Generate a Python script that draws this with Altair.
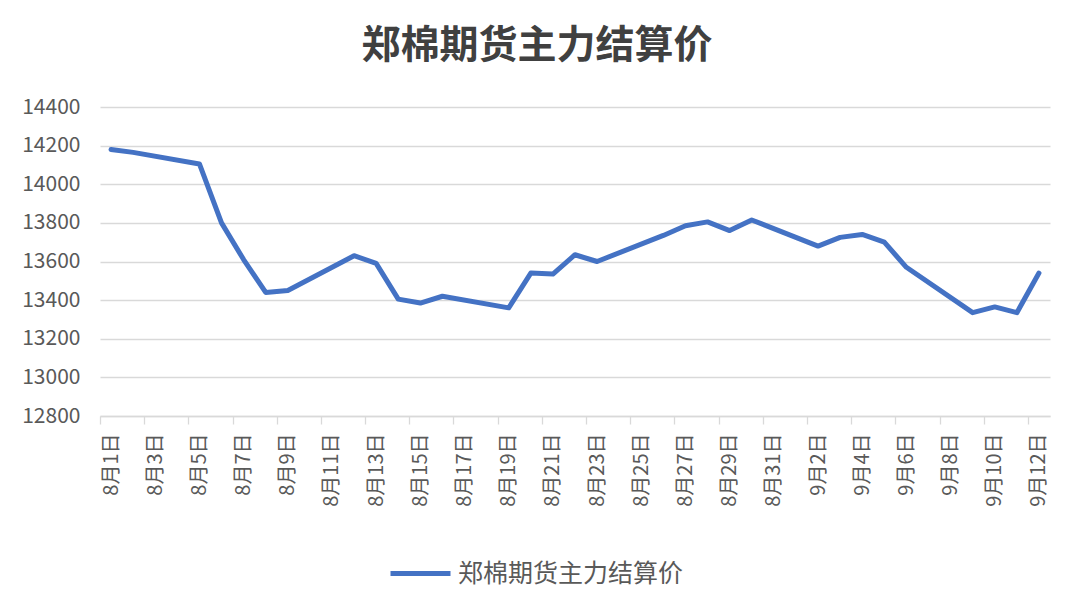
import altair as alt
import pandas as pd

# trading-day index (1 = 8月1日, 32 = 9月1日) and settlement prices
day_index = [1, 2, 5, 6, 7, 8, 9, 12, 13, 14, 15, 16, 19, 20, 21, 22, 23,
             26, 27, 28, 29, 30, 33, 34, 35, 36, 37, 40, 41, 42, 43]
prices = [14180, 14165, 14105, 13800, 13610, 13440, 13450, 13630, 13590,
          13405, 13385, 13420, 13360, 13540, 13535, 13635, 13600, 13735,
          13785, 13805, 13760, 13815, 13680, 13725, 13740, 13700, 13570,
          13335, 13365, 13335, 13540]
series_name = "郑棉期货主力结算价"

tick_days = list(range(1, 44, 2))
tick_labels = ["8月1日", "8月3日", "8月5日", "8月7日", "8月9日", "8月11日",
               "8月13日", "8月15日", "8月17日", "8月19日", "8月21日",
               "8月23日", "8月25日", "8月27日", "8月29日", "8月31日",
               "9月2日", "9月4日", "9月6日", "9月8日", "9月10日", "9月12日"]
y_ticks = [12800, 13000, 13200, 13400, 13600, 13800, 14000, 14200, 14400]

df = pd.DataFrame({"day": day_index, "price": prices, "series": series_name})

W, H = 950, 309
half_day = W / 43 / 2
label_expr = "[" + ",".join("'%s'" % s for s in tick_labels) + "][(datum.value - 1) / 2]"

FONT = "Noto Sans CJK SC"
GREY = "#595959"

chart = alt.Chart(df).mark_line(strokeWidth=5, strokeCap="round", strokeJoin="round").encode(
    x=alt.X("day:Q",
            scale=alt.Scale(domain=[0.5, 43.5], nice=False, zero=False),
            axis=alt.Axis(values=tick_days, labelExpr=label_expr, title=None,
                          grid=False, domainColor="#d9d9d9", domainWidth=1.3,
                          tickColor="#d9d9d9", tickSize=8, tickWidth=1.3,
                          tickOffset=-half_day, labelOffset=half_day,
                          labelAngle=270, labelAlign="right", labelBaseline="middle",
                          labelPadding=9, labelFontSize=20, labelFont=FONT,
                          labelColor=GREY, labelOverlap=False, labelBound=False,
                          labelFlush=False)),
    y=alt.Y("price:Q",
            scale=alt.Scale(domain=[12800, 14400], nice=False, zero=False),
            axis=alt.Axis(values=y_ticks, format="d", title=None, domain=False, ticks=False,
                          gridColor="#d9d9d9", gridWidth=1.3,
                          labelFontSize=21, labelFont=FONT, labelColor=GREY,
                          labelPadding=20, minExtent=87)),
    color=alt.Color("series:N",
                    scale=alt.Scale(range=["#4472C4"]),
                    legend=alt.Legend(title=None, orient="none", legendX=288, legendY=434,
                                      symbolType="stroke", symbolSize=3600,
                                      symbolStrokeWidth=5, labelFontSize=25,
                                      labelFont=FONT, labelColor=GREY, labelLimit=400,
                                      labelOffset=5, padding=0)),
).properties(
    width=W, height=H,
    background="white",
    title=alt.TitleParams(series_name, fontSize=39, font=FONT, fontWeight="bold",
                          color="#404040", offset=30, anchor="middle", dx=-38),
    padding={"left": 5, "top": 19, "right": 5, "bottom": 5},
).configure_view(stroke=None)

chart.save("out.html", embed_options={"renderer": "svg", "actions": False})
